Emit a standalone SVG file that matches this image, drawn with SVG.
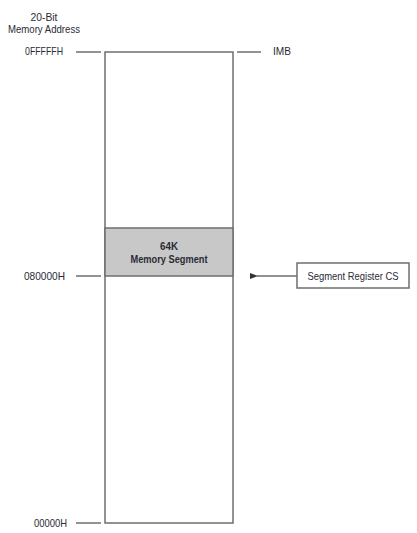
<svg xmlns="http://www.w3.org/2000/svg" width="417" height="533" viewBox="0 0 417 533">
<style>
.ln{stroke:#6e6e6e;stroke-width:1.5;fill:none}
.t{font-family:"Liberation Sans",Arial,sans-serif;font-size:11.5px;fill:#2b2b36}
.b{font-weight:bold}
</style>
<defs>
<marker id="ah" markerWidth="8" markerHeight="6" refX="1" refY="3" orient="auto" markerUnits="userSpaceOnUse">
<path d="M8,0 L0,3 L8,6 z" fill="#333"/>
</marker>
</defs>
<rect width="417" height="533" fill="#fff"/>
<g id="labels">
<text class="t" x="44" y="21" text-anchor="middle" textLength="27" lengthAdjust="spacingAndGlyphs">20-Bit</text>
<text class="t" x="44" y="33" text-anchor="middle" textLength="72" lengthAdjust="spacingAndGlyphs">Memory Address</text>
<text class="t" x="44" y="55" text-anchor="middle" textLength="38" lengthAdjust="spacingAndGlyphs">0FFFFFH</text>
<text class="t" x="273" y="55" textLength="18" lengthAdjust="spacingAndGlyphs">IMB</text>
<text class="t" x="44.5" y="280" text-anchor="middle" textLength="41" lengthAdjust="spacingAndGlyphs">080000H</text>
<text class="t" x="50.5" y="527" text-anchor="middle" textLength="33" lengthAdjust="spacingAndGlyphs">00000H</text>
</g>
<g id="memory">
<rect class="ln" x="105" y="52" width="128" height="471"/>
</g>
<g id="segment">
<rect x="105" y="228" width="128" height="48" fill="#c8c8c8" stroke="#6e6e6e" stroke-width="1.5"/>
<text class="t b" x="169" y="250" text-anchor="middle" textLength="18" lengthAdjust="spacingAndGlyphs">64K</text>
<text class="t b" x="169" y="263" text-anchor="middle" textLength="77" lengthAdjust="spacingAndGlyphs">Memory Segment</text>
</g>
<g id="register">
<rect class="ln" x="297" y="263" width="112" height="25"/>
<text class="t" x="353" y="280" text-anchor="middle" textLength="91" lengthAdjust="spacingAndGlyphs">Segment Register CS</text>
</g>
<g id="connectors">
<line class="ln" x1="76" y1="52" x2="101" y2="52"/>
<line class="ln" x1="237" y1="52" x2="261" y2="52"/>
<line class="ln" x1="76" y1="276" x2="101" y2="276"/>
<line class="ln" x1="76" y1="523" x2="101" y2="523"/>
<line class="ln" x1="297" y1="276" x2="257" y2="276" marker-end="url(#ah)"/>
</g>
</svg>
